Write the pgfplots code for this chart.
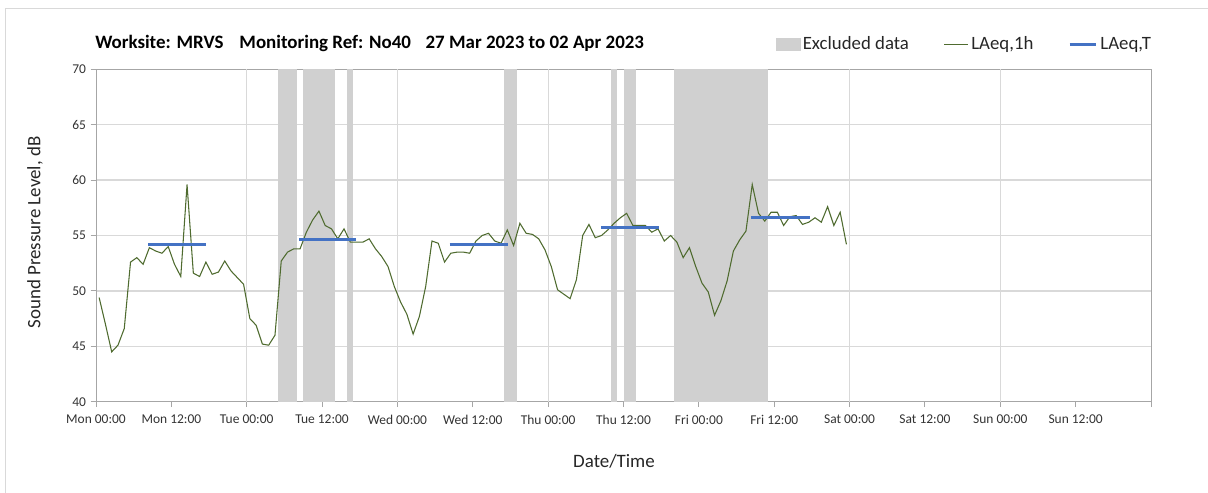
\documentclass[border=0pt]{standalone}
\usepackage{pgfplots}
\pgfplotsset{compat=1.18}
\usepackage{pgfplotstable}
\usepackage{fontspec}
\setmainfont{Carlito}
\definecolor{excl}{HTML}{D0D0D0}
\definecolor{lgreen}{HTML}{4F6B2F}
\definecolor{lblue}{HTML}{4472C4}
\definecolor{gridc}{HTML}{D9D9D9}
\definecolor{axc}{HTML}{A6A6A6}
\definecolor{txt}{HTML}{404040}

\pgfplotstableread{
t v
0.5 49.4
1.5 47.0
2.5 44.5
3.5 45.1
4.5 46.6
5.5 52.6
6.5 53.0
7.5 52.4
8.5 53.9
9.5 53.6
10.5 53.4
11.5 54.0
12.5 52.4
13.5 51.3
14.5 59.6
15.5 51.6
16.5 51.3
17.5 52.6
18.5 51.5
19.5 51.7
20.5 52.7
21.5 51.8
22.5 51.2
23.5 50.6
24.5 47.5
25.5 46.9
26.5 45.2
27.5 45.1
28.5 46.0
29.5 52.7
30.5 53.5
31.5 53.8
32.5 53.8
33.5 55.3
34.5 56.4
35.5 57.2
36.5 55.9
37.5 55.6
38.5 54.7
39.5 55.6
40.5 54.4
41.5 54.4
42.5 54.4
43.5 54.7
44.5 53.8
45.5 53.1
46.5 52.2
47.5 50.4
48.5 49.0
49.5 47.9
50.5 46.1
51.5 47.7
52.5 50.4
53.5 54.5
54.5 54.3
55.5 52.6
56.5 53.4
57.5 53.5
58.5 53.5
59.5 53.4
60.5 54.5
61.5 55.0
62.5 55.2
63.5 54.5
64.5 54.3
65.5 55.5
66.5 54.1
67.5 56.1
68.5 55.2
69.5 55.1
70.5 54.7
71.5 53.7
72.5 52.2
73.5 50.1
74.5 49.7
75.5 49.3
76.5 51.0
77.5 55.0
78.5 56.0
79.5 54.8
80.5 55.0
81.5 55.5
82.5 56.1
83.5 56.6
84.5 57.0
85.5 55.9
86.5 55.9
87.5 55.9
88.5 55.3
89.5 55.6
90.5 54.5
91.5 55.0
92.5 54.4
93.5 53.0
94.5 53.9
95.5 52.2
96.5 50.7
97.5 49.9
98.5 47.8
99.5 49.1
100.5 50.9
101.5 53.6
102.5 54.6
103.5 55.4
104.5 59.6
105.5 57.0
106.5 56.3
107.5 57.1
108.5 57.1
109.5 55.9
110.5 56.7
111.5 56.8
112.5 56.0
113.5 56.2
114.5 56.6
115.5 56.2
116.5 57.6
117.5 55.9
118.5 57.1
119.5 54.2
}\hourly

\begin{document}
\begin{tikzpicture}
\path[use as bounding box] (0,0) rectangle (906pt,369.75pt);
\draw[gridc, line width=0.75pt] (3.75pt,-5pt) -- (3.75pt,363.5pt) -- (915pt,363.5pt);
\begin{axis}[
  at={(72pt,68.475pt)}, anchor=south west,
  scale only axis, width=791.25pt, height=249.3pt,
  xmin=0, xmax=168, ymin=40, ymax=70,
  axis line style={draw=axc, line width=0.75pt},
  tick align=outside, tick pos=left,
  major tick length=4pt,
  tick style={draw=axc, line width=0.75pt},
  xtick={0,12,...,168},
  xticklabels={Mon 00:00, Mon 12:00, Tue 00:00, Tue 12:00, Wed 00:00, Wed 12:00, Thu 00:00, Thu 12:00, Fri 00:00, Fri 12:00, Sat 00:00, Sat 12:00, Sun 00:00, Sun 12:00, {}},
  xticklabel style={yshift=-2.5pt},
  ytick={40,45,...,70},
  ymajorgrids,
  major grid style={draw=gridc, line width=1pt},
  extra x ticks={24,48,72,96,120,144},
  extra x tick labels={},
  extra x tick style={grid=major, major tick length=0pt, major grid style={draw=gridc, line width=0.6pt}},
  /pgf/number format/assume math mode=true,
  ticklabel style={font=\fontsize{10.1}{12}\selectfont, text=black!80},
  legend style={at={(1.0066,1.076)}, anchor=east, draw=none, fill=none,
    font=\fontsize{14.1}{16}\selectfont, text=black!85,
    /tikz/every even column/.append style={column sep=24pt}},
  legend columns=3, legend cell align=left,
]
% excluded data bands
\addplot[fill=excl, draw=none, forget plot] coordinates {(29,40) (29,70) (32,70) (32,40)} -- cycle;
\addplot[fill=excl, draw=none, forget plot] coordinates {(33,40) (33,70) (38,70) (38,40)} -- cycle;
\addplot[fill=excl, draw=none, forget plot] coordinates {(40,40) (40,70) (41,70) (41,40)} -- cycle;
\addplot[fill=excl, draw=none, forget plot] coordinates {(65,40) (65,70) (67,70) (67,40)} -- cycle;
\addplot[fill=excl, draw=none, forget plot] coordinates {(82,40) (82,70) (83,70) (83,40)} -- cycle;
\addplot[fill=excl, draw=none, forget plot] coordinates {(84,40) (84,70) (86,70) (86,40)} -- cycle;
\addplot[fill=excl, draw=none, forget plot] coordinates {(92,40) (92,70) (107,70) (107,40)} -- cycle;
% hourly
\addplot[lgreen, line width=0.8pt, forget plot] table[x=t, y=v] {\hourly};
% LAeq,T
\addplot[lblue, line width=2.25pt, forget plot] coordinates {(8.3,54.2) (17.5,54.2)};
\addplot[lblue, line width=2.25pt, forget plot] coordinates {(32.4,54.65) (41.4,54.65)};
\addplot[lblue, line width=2.25pt, forget plot] coordinates {(56.3,54.2) (65.6,54.2)};
\addplot[lblue, line width=2.25pt, forget plot] coordinates {(80.4,55.75) (89.6,55.75)};
\addplot[lblue, line width=2.25pt, forget plot] coordinates {(104.3,56.65) (113.7,56.65)};
\addlegendimage{legend image code/.code={\fill[excl] (0pt,-4.5pt) rectangle (18pt,4.5pt);}}
\addlegendentry{Excluded data}
\addlegendimage{legend image code/.code={\draw[lgreen, line width=0.75pt] (0pt,0pt) -- (18pt,0pt);}}
\addlegendentry{LAeq,1h}
\addlegendimage{legend image code/.code={\draw[lblue, line width=2.25pt] (0pt,0pt) -- (20pt,0pt);}}
\addlegendentry{LAeq,T}
\end{axis}
\node[anchor=base west, inner sep=0pt, font=\bfseries\fontsize{14.2}{17}\selectfont] at (71.25pt,333.4pt) {Worksite: MRVS\hspace{12pt}Monitoring Ref: No40\hspace{11pt}27 Mar 2023 to 02 Apr 2023};
\node[rotate=90, inner sep=0pt, font=\fontsize{14.2}{17}\selectfont, text=black!85] at (26.25pt,195.4pt) {Sound Pressure Level, dB};
\node[inner sep=0pt, font=\fontsize{14.2}{17}\selectfont, text=black!85] at (460.5pt,23.5pt) {Date/Time};
\end{tikzpicture}
\end{document}
